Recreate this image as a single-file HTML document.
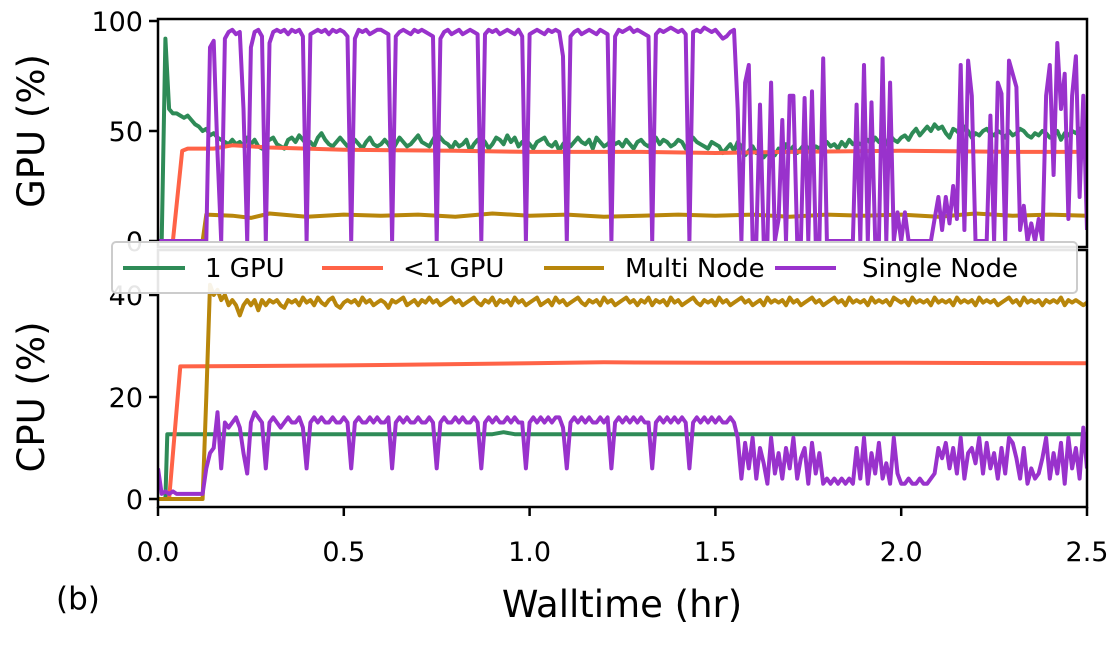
<!DOCTYPE html>
<html><head><meta charset="utf-8"><style>
html,body{margin:0;padding:0;background:#fff}
svg text{font-family:"DejaVu Sans","Liberation Sans",sans-serif;fill:#000}
</style></head><body>
<svg id="chart" width="1120" height="640" viewBox="0 0 1120 640" xmlns="http://www.w3.org/2000/svg">
<defs>
<clipPath id="clipTop"><rect x="158" y="19" width="929" height="228"/></clipPath>
<clipPath id="clipBot"><rect x="158" y="250" width="929" height="257"/></clipPath>
</defs>
<g id="top"></g>
<g id="bot"></g>
<text x="0" y="0" transform="translate(44,131) rotate(-90)" text-anchor="middle" font-size="37">GPU (%)</text>
<text x="0" y="0" transform="translate(44,397) rotate(-90)" text-anchor="middle" font-size="37">CPU (%)</text>
<text x="622" y="617" text-anchor="middle" font-size="37">Walltime (hr)</text>
<text x="56" y="609" font-size="31">(b)</text>
<g>
<rect x="112" y="242" width="965" height="51" rx="4" fill="#fff" fill-opacity="0.9" stroke="#ccc" stroke-width="2"/>
<line x1="123" y1="268" x2="185" y2="268" stroke="#2e8b57" stroke-width="4"/>
<text x="205" y="277" font-size="26">1 GPU</text>
<line x1="322" y1="268" x2="383" y2="268" stroke="#ff6347" stroke-width="4"/>
<text x="403" y="277" font-size="26">&lt;1 GPU</text>
<line x1="544" y1="268" x2="604" y2="268" stroke="#b8860b" stroke-width="4"/>
<text x="625" y="277" font-size="26">Multi Node</text>
<line x1="775" y1="268" x2="836" y2="268" stroke="#9932cc" stroke-width="4"/>
<text x="862" y="277" font-size="26">Single Node</text>
</g>
</svg>
<script>
// ---- data ----
const xTicks = [0.0, 0.5, 1.0, 1.5, 2.0, 2.5];
const xTickLabels = ["0.0", "0.5", "1.0", "1.5", "2.0", "2.5"];
const gpuTicks = [0, 50, 100];
const cpuTicks = [0, 20, 40];
const gridStep = 0.01; // hours between samples of the dense series
const singleNodeGpu = [
0,0,0,0,0,0,0,0,0,0,
0,0,0,0,88,91,40,0,92,95,
96,94,95,60,0,88,95,96,93,0,
90,95,96,95,96,94,96,95,96,93,
0,94,95,96,95,96,94,96,95,96,
95,93,0,92,96,95,96,94,95,96,
96,95,94,0,93,95,96,95,94,96,
95,96,95,94,93,0,92,95,96,94,
95,96,94,95,96,95,94,0,94,96,
95,96,94,95,96,95,94,96,93,0,
94,95,96,95,94,96,95,96,95,84,
0,93,95,96,94,95,96,95,94,96,
95,94,0,93,96,95,96,97,95,96,
95,94,93,0,94,96,95,96,97,96,
95,96,94,0,95,96,95,97,96,95,
96,94,92,93,95,96,60,0,72,80,
0,0,62,0,0,72,0,10,55,0,
66,66,0,0,65,0,68,0,0,83,
0,0,0,0,0,0,0,0,62,0,
80,0,63,0,0,83,0,72,0,13,
0,13,0,0,0,0,0,0,0,10,
20,5,20,8,25,10,80,5,82,66,
0,0,0,0,57,0,72,67,0,82,
76,70,5,16,0,8,0,10,0,66,
80,30,90,60,76,10,66,84,20,66,5];
const oneGpuGpu = [
0,0,92,60,58,58,57,56,57,55,
53,52,50,51,48,49,47,46,45,44,
46,44,45,43,47,44,46,43,42,45,
46,47,44,43,42,46,47,45,48,46,
44,45,43,47,49,46,44,43,45,47,
45,43,44,46,44,42,45,47,44,43,
44,46,44,41,44,47,45,43,44,46,
48,45,44,43,46,49,47,45,44,42,
45,43,44,46,41,44,46,47,45,42,
44,47,46,44,48,45,47,43,45,46,
44,42,45,46,47,44,43,45,41,44,
46,43,45,47,45,44,46,42,47,45,
43,44,46,44,45,43,46,44,42,45,
46,44,43,45,47,44,46,45,43,44,
46,45,42,44,47,45,44,43,42,45,
44,43,40,42,44,41,45,43,39,41,
43,40,42,38,40,41,39,42,40,44,
41,43,40,42,44,42,41,43,42,44,
45,43,44,42,45,43,46,44,45,44,
45,46,44,47,45,46,44,48,46,45,
47,48,46,49,51,48,50,52,50,53,
51,52,49,47,51,50,48,52,50,47,
49,48,50,51,49,48,50,49,47,50,
48,49,51,50,48,47,49,48,50,49,
47,48,50,46,49,48,50,49,51,48,50];
const multiNodeCpu = [
0,0,0,0,0,0,0,0,0,0,
0,0,0,20,42,40,41,39,40,38,
39,38,36,38,39,38,39,37,39,38,
39,38.5,39,38,37.5,39,38.5,39,38,39.5,
38.5,39,38,39.5,38.5,38,39,39.5,38,37.5,
38.5,39,38.5,39,38,39.5,38.5,39,38,38.5,
39,38.5,37.5,39,38.5,39,39.5,38,38.5,39,
38,39,38.5,39.5,38.5,39,38,38.5,39,39.5,
38.5,39,38,38.5,39,39.5,38.5,38,39,38.5,
39.5,38,39,38.5,39,38,39.5,38.5,39,38,
38.5,39,39.5,38,38.5,39,38,39.5,38.5,39,
38,38.5,39,39.5,38.5,38,39,38.5,39,38,
39.5,38.5,39,38,38.5,39,39.5,38.5,39,38,
39,38.5,39.5,38,39,38.5,39,38,39.5,38.5,
39,38,38.5,39,39.5,38.5,38,39,38.5,39,
38,39.5,38.5,39,38,38.5,39,39.5,38.5,39,
38,38.5,39,38,39.5,38.5,39,38.5,39,38,
39.5,38.5,39,38,38.5,39,39.5,38.5,39,38,
38.5,39,39.5,38.5,39,38,39.5,38.5,39,38.5,
39,38,39.5,38.5,39,38.5,39,38,39.5,39,
38.5,39,38,39.5,38.5,39,38.5,39,38,39.5,
38.5,39,38.5,39,38,39.5,38.5,39,38.5,39,
38,39.5,38.5,39,38.5,39,38,38.5,39,39.5,
38.5,39,38,39.5,38.5,39,38.5,39,38,39,
38.5,39,38.5,39.5,38,39,38.5,39,38.5,38,38.5];
const singleNodeCpu = [
6,1,1.5,1,1.5,1,1,1,1,1,
1,1,1,6,9,10,17,6,15,14,
15,16,14,9,5,15,17,16,15,6,
15,16,15,14,15,16,15,15,16,14,
6,15,16,15,16,15,15,16,15,15,
16,15,6,15,16,15,15,16,15,16,
15,15,16,6,15,16,15,16,15,15,
16,15,15,16,15,6,15,16,15,15,
16,15,16,15,15,16,15,6,15,16,
15,16,15,15,16,15,16,15,15,6,
15,16,15,16,15,16,15,16,16,14,
6,15,16,15,16,15,16,15,15,16,
15,16,6,15,16,15,16,15,16,15,
16,15,15,6,15,16,15,16,15,16,
15,16,15,6,15,16,15,16,15,16,
15,16,15,15,16,15,12,4,11,6,
12,4,10,7,3,12,5,9,4,10,
6,12,4,8,10,3,11,5,9,3,
4,3,4,3,4,3,4,3,10,4,
12,3,9,5,11,4,7,3,12,5,
3,3,4,3,3,4,3,3,4,5,
10,8,11,6,10,5,12,4,9,10,
7,12,5,11,6,9,4,10,5,12,
11,8,4,10,3,6,4,5,8,12,
4,9,5,11,3,12,6,10,4,14,6];
const lt1GpuGpuT = [0,0.04,0.065,0.08,0.15,0.2,0.3,0.5,0.8,1.0,1.3,1.5,1.7,2.0,2.3,2.5];
const lt1GpuGpuV = [0,0,41,42,42,43.5,42.5,41.5,41,40.5,40.5,40,40.5,41,40.5,40.5];
const lt1GpuCpuT = [0,0.03,0.06,0.5,1.0,1.2,1.5,2.0,2.5];
const lt1GpuCpuV = [0,0,26,26.2,26.6,26.8,26.7,26.7,26.6];
const oneGpuCpuT = [0,0.02,0.025,0.9,0.93,0.96,2.5];
const oneGpuCpuV = [0,0,12.7,12.7,13.1,12.7,12.7];
const multiGpuT = [0,0.12,0.13,0.2,0.25,0.3,0.4,0.5,0.6,0.7,0.8,0.9,1.0,1.1,1.2,1.3,1.4,1.5,1.6,1.7,1.8,1.9,2.0,2.1,2.2,2.3,2.4,2.5];
const multiGpuV = [0,0,12,11.5,10.5,12.5,11,12,11.5,12,11,12.5,11.5,12,11,11.5,12,11.5,12,11,12,11.5,12,11,12.5,11.5,12,11.5];

// ---- scales ----
const X0 = 158, X1 = 1087;
const xs = t => X0 + (t / 2.5) * (X1 - X0);
const yTop = v => 241 - v * 2.2;
const yBot = v => 499 - v * 5.1;
const NS = "http://www.w3.org/2000/svg";
const topG = document.getElementById('top');
const botG = document.getElementById('bot');

function gridTimes(arr){ return arr.map((_, i) => i * gridStep); }
function addLine(parent, ts, vs, ys, color, name, clip){
  const p = document.createElementNS(NS, 'path');
  let d = '';
  for (let i = 0; i < ts.length; i++) d += (i ? 'L' : 'M') + xs(ts[i]).toFixed(1) + ',' + ys(vs[i]).toFixed(1);
  p.setAttribute('d', d);
  p.setAttribute('fill', 'none');
  p.setAttribute('stroke', color);
  p.setAttribute('stroke-width', '4');
  p.setAttribute('stroke-linejoin', 'round');
  p.setAttribute('clip-path', 'url(#' + clip + ')');
  
  
  parent.appendChild(p);
}
const G = '#2e8b57', O = '#ff6347', Y = '#b8860b', P = '#9932cc';
addLine(topG, gridTimes(oneGpuGpu), oneGpuGpu, yTop, G, 'line-1gpu-gpu', 'clipTop');
addLine(topG, lt1GpuGpuT, lt1GpuGpuV, yTop, O, 'line-lt1gpu-gpu', 'clipTop');
addLine(topG, multiGpuT, multiGpuV, yTop, Y, 'line-multi-node-gpu', 'clipTop');
addLine(topG, gridTimes(singleNodeGpu), singleNodeGpu, yTop, P, 'line-single-node-gpu', 'clipTop');
addLine(botG, oneGpuCpuT, oneGpuCpuV, yBot, G, 'line-1gpu-cpu', 'clipBot');
addLine(botG, lt1GpuCpuT, lt1GpuCpuV, yBot, O, 'line-lt1gpu-cpu', 'clipBot');
addLine(botG, gridTimes(multiNodeCpu), multiNodeCpu, yBot, Y, 'line-multi-node-cpu', 'clipBot');
addLine(botG, gridTimes(singleNodeCpu), singleNodeCpu, yBot, P, 'line-single-node-cpu', 'clipBot');

function mk(parent, tag, attrs, text){
  const e = document.createElementNS(NS, tag);
  for (const k in attrs) e.setAttribute(k, attrs[k]);
  if (text !== undefined) e.textContent = text;
  parent.appendChild(e);
  return e;
}
const f1 = mk(topG, 'rect', {x:X0, y:19, width:X1-X0, height:228, fill:'none', stroke:'#000', 'stroke-width':2.5});


const f2 = mk(botG, 'rect', {x:X0, y:250, width:X1-X0, height:257, fill:'none', stroke:'#000', 'stroke-width':2.5});


gpuTicks.forEach(v => {
  const y = yTop(v);
  const l = mk(topG, 'line', {x1:X0-9, x2:X0, y1:y, y2:y, stroke:'#000', 'stroke-width':2.5});
  
  
  const t = mk(topG, 'text', {x:X0-15, y:y+10, 'text-anchor':'end', 'font-size':27}, String(v));
  
  
});
cpuTicks.forEach(v => {
  const y = yBot(v);
  const l = mk(botG, 'line', {x1:X0-9, x2:X0, y1:y, y2:y, stroke:'#000', 'stroke-width':2.5});
  
  
  const t = mk(botG, 'text', {x:X0-15, y:y+10, 'text-anchor':'end', 'font-size':27}, String(v));
  
  
});
xTicks.forEach((v, i) => {
  const x = xs(v);
  const l = mk(botG, 'line', {x1:x, x2:x, y1:507, y2:516, stroke:'#000', 'stroke-width':2.5});
  
  
  const t = mk(botG, 'text', {x:x, y:561, 'text-anchor':'middle', 'font-size':27}, xTickLabels[i]);
  
  
});
</script>
</body></html>
